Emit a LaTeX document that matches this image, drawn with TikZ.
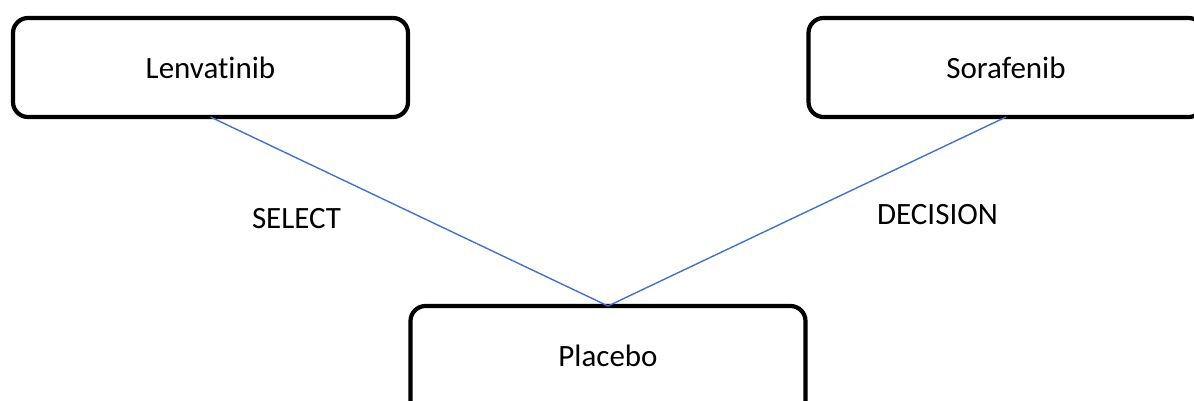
\documentclass[tikz,border=0pt]{standalone}
\usepackage{fontspec}
\setmainfont{Carlito}[Ligatures={NoCommon}]
\definecolor{linkblue}{HTML}{4472C4}
\begin{document}
\begin{tikzpicture}[x=1pt,y=-1pt,
  box/.style={draw=black, line width=4.2pt, rounded corners=15pt, fill=white,
    minimum width=395pt, minimum height=99pt, inner sep=0pt, outer sep=0pt,
    font=\fontsize{31}{37}\selectfont},
  lbl/.style={font=\fontsize{31}{37}\selectfont, inner sep=0pt},
  link/.style={draw=linkblue, line width=1.4pt}]
\useasboundingbox (0,0) rectangle (1194,401);
\clip (0,0) rectangle (1194,401);
\fill[white] (0,0) rectangle (1194,401);
\node[box] (len) at (210.5,67.5) {Lenvatinib};
\node[box] (sor) at (1006,67.5) {Sorafenib};
\node[box, minimum height=110pt] (pla) at (608,361) {};
\node[lbl] (platxt) at (608,355.5) {Placebo};
\draw[link] (len.south) -- (pla.north);
\draw[link] (sor.south) -- (pla.north);
\node[lbl, anchor=base] (sel) at (296.5,228) {SELECT};
\node[lbl, anchor=base] (dec) at (937.5,224) {DECISION};
\end{tikzpicture}
\end{document}
